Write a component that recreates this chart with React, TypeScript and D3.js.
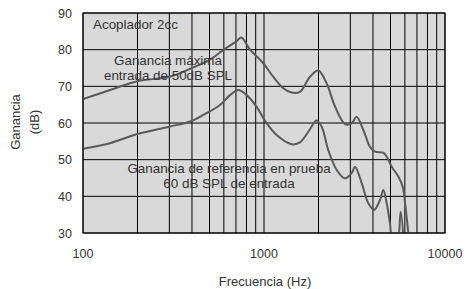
import React, { useEffect, useRef } from "react";
import * as d3 from "d3";

// curva superior: ganancia máxima, entrada 50 dB SPL
const maxFreq = [100, 141, 200, 300, 400, 500, 600, 700, 750, 837, 991, 1126, 1279, 1422, 1580, 1795, 1995, 2220, 2468, 2803, 3050, 3243, 3538, 3852, 4105, 4562, 4764, 5077, 5521, 5840, 6012, 6190, 6327];
const maxGain = [66.5, 69.0, 71.4, 72.6, 75.0, 77.2, 80.0, 82.2, 83.3, 80.0, 76.3, 72.6, 69.5, 68.3, 68.5, 72.6, 74.3, 70.8, 64.5, 59.7, 59.9, 61.7, 58.1, 53.5, 52.2, 51.9, 50.8, 48.1, 45.4, 42.6, 38.2, 32.7, 28];

// curva inferior: ganancia de referencia, entrada 60 dB SPL
const refFreq = [100, 141, 200, 300, 390, 462, 571, 649, 721, 802, 911, 1013, 1175, 1422, 1580, 1795, 1950, 2084, 2266, 2521, 2803, 3050, 3182, 3466, 3770, 4053, 4375, 4562, 4764, 4966, 5162, 5430, 5691, 5935];
const refGain = [53.0, 54.5, 57.0, 59.0, 60.4, 62.2, 64.9, 67.6, 69.0, 67.6, 64.4, 60.6, 56.7, 54.2, 54.7, 58.3, 60.7, 59.0, 52.6, 47.2, 44.9, 46.3, 48.1, 43.6, 38.1, 36.3, 39.0, 41.7, 38.1, 32.6, 27, 27, 35.8, 26];

const xTicks = [100, 1000, 10000];
const yTicks = [30, 40, 50, 60, 70, 80, 90];

function App() {
  const ref = useRef<SVGSVGElement | null>(null);

  useEffect(() => {
    const width = 467;
    const height = 289;
    const margin = { top: 13, right: 22, bottom: 56, left: 83 };
    const font = "'Liberation Sans', Arial, sans-serif";

    const svg = d3.select(ref.current).attr("width", width).attr("height", height);
    svg.selectAll("*").remove();

    const x = d3.scaleLog().domain([100, 10000]).range([margin.left, width - margin.right]);
    const y = d3.scaleLinear().domain([30, 90]).range([height - margin.bottom, margin.top]);

    svg.append("rect")
      .attr("x", x(100)).attr("y", y(90))
      .attr("width", x(10000) - x(100)).attr("height", y(30) - y(90))
      .attr("fill", "#d9d9d9");

    svg.append("clipPath").attr("id", "plot-clip")
      .append("rect")
      .attr("x", x(100)).attr("y", y(90))
      .attr("width", x(10000) - x(100)).attr("height", y(30) - y(90));

    // rejilla logarítmica
    const vLines: number[] = [];
    for (const dec of [100, 1000]) for (let k = 1; k <= 9; k++) vLines.push(dec * k);
    vLines.push(10000);

    svg.append("g").selectAll("line").data(vLines).enter().append("line")
      .attr("x1", (d) => x(d)).attr("x2", (d) => x(d))
      .attr("y1", y(90)).attr("y2", y(30))
      .attr("stroke", "#000").attr("stroke-width", 1);

    svg.append("g").selectAll("line").data(yTicks).enter().append("line")
      .attr("x1", x(100)).attr("x2", x(10000))
      .attr("y1", (d) => y(d)).attr("y2", (d) => y(d))
      .attr("stroke", "#000").attr("stroke-width", 1);

    // etiquetas de ejes
    svg.append("g").selectAll("text").data(yTicks).enter().append("text")
      .attr("x", x(100) - 11).attr("y", (d) => y(d) + 4.5)
      .attr("text-anchor", "end").attr("font-family", font).attr("font-size", 12.5)
      .attr("fill", "#333").text((d) => d);

    svg.append("g").selectAll("text").data(xTicks).enter().append("text")
      .attr("x", (d) => x(d)).attr("y", 258)
      .attr("text-anchor", "middle").attr("font-family", font).attr("font-size", 12.5)
      .attr("fill", "#333").text((d) => d);

    svg.append("text")
      .attr("x", 265).attr("y", 286)
      .attr("text-anchor", "middle").attr("font-family", font).attr("font-size", 13)
      .attr("fill", "#333").text("Frecuencia (Hz)");

    const yl = svg.append("text")
      .attr("transform", "translate(20,122) rotate(-90)")
      .attr("text-anchor", "middle").attr("font-family", font).attr("font-size", 13)
      .attr("fill", "#333");
    yl.append("tspan").attr("x", 0).attr("dy", 0).text("Ganancia");
    yl.append("tspan").attr("x", 0).attr("dy", 19).text("(dB)");

    // curvas
    const line = d3.line<[number, number]>()
      .x((d) => x(d[0])).y((d) => y(d[1]))
      .curve(d3.curveCatmullRom.alpha(0.5));

    const series = [
      maxFreq.map((f, i) => [f, maxGain[i]] as [number, number]),
      refFreq.map((f, i) => [f, refGain[i]] as [number, number]),
    ];

    svg.append("g").attr("clip-path", "url(#plot-clip)")
      .selectAll("path").data(series).enter().append("path")
      .attr("d", (d) => line(d))
      .attr("fill", "none").attr("stroke", "#5a5a5a").attr("stroke-width", 2)
      .attr("stroke-linejoin", "round");

    // anotaciones
    const note = (tx: number, ty: number, txt: string, anchor = "middle") =>
      svg.append("text").attr("x", tx).attr("y", ty)
        .attr("text-anchor", anchor).attr("font-family", font).attr("font-size", 13.4)
        .attr("fill", "#333").text(txt);

    note(93, 29, "Acoplador 2cc", "start");
    note(168, 65, "Ganancia máxima");
    note(168, 80, "entrada de 50dB SPL");
    note(229, 173, "Ganancia de referencia en prueba");
    note(229, 188, "60 dB SPL de entrada");

    svg.append("rect")
      .attr("x", x(100)).attr("y", y(90))
      .attr("width", x(10000) - x(100)).attr("height", y(30) - y(90))
      .attr("fill", "none").attr("stroke", "#000").attr("stroke-width", 1);
  }, []);

  return (
    <svg ref={ref} style={{ position: "absolute", left: 0, top: 0, background: "#fff" }}></svg>
  );
}

export default App;
